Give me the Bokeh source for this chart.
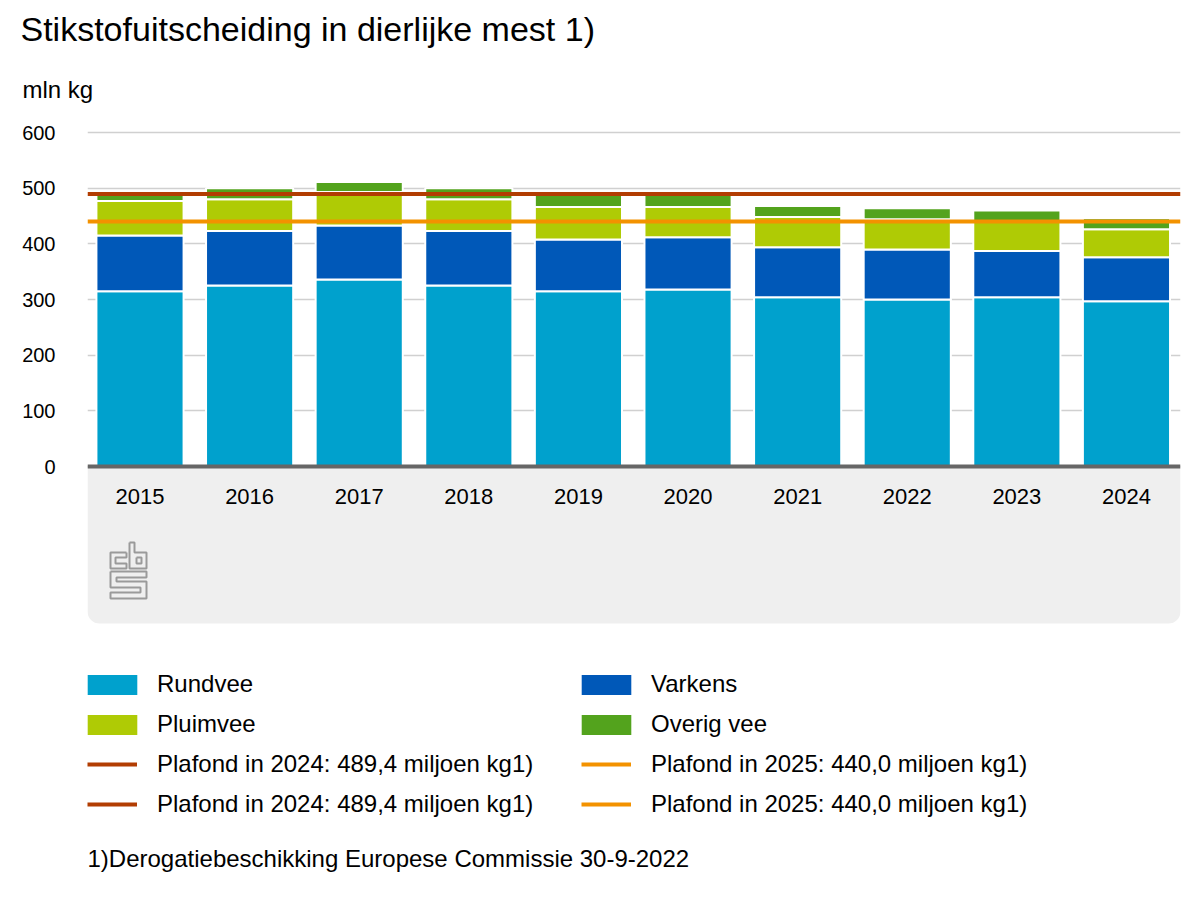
from bokeh.plotting import figure
from bokeh.models import (Range1d, FixedTicker, Label, Legend, LegendItem, ColumnDataSource, Span, Title)
from bokeh.embed import file_html
from bokeh.resources import INLINE
from bokeh.core.properties import value

# ---- data ----
years = ["2015", "2016", "2017", "2018", "2019", "2020", "2021", "2022", "2023", "2024"]
rundvee = [315, 325, 336, 325, 315, 318, 304, 300, 304, 297]
varkens = [100, 98, 97, 98, 93, 94, 90, 90, 83, 79]
pluimvee = [62, 57, 60, 57, 58, 54, 54, 54, 53, 50]
overig = [14, 20, 18, 20, 22, 23, 20, 20, 20, 20]
series_names = ["Rundvee", "Varkens", "Pluimvee", "Overig vee"]
plafond_2024 = 489.4
plafond_2025 = 440.0
plafond_2024_label = "Plafond in 2024: 489,4 miljoen kg1)"
plafond_2025_label = "Plafond in 2025: 440,0 miljoen kg1)"
y_ticks = [0, 100, 200, 300, 400, 500, 600]
title_text = "Stikstofuitscheiding in dierlijke mest 1)"
unit_text = "mln kg"
footnote_text = "1)Derogatiebeschikking Europese Commissie 30-9-2022"

# ---- styles ----
FONT = "Liberation Sans"
colors = ["#00a1cd", "#0058b8", "#afcb05", "#53a31d"]
red = "#b23d02"
orange = "#f39200"

# ---- geometry ----
W, H = 1184, 884
FRAME_LEFT, FRAME_RIGHT, FRAME_BOTTOM = 87, 1180, 876
px_per_unit = 334 / 600.0
x0, x1 = -0.479, len(years) - 1 + 0.493
px_per_x = (FRAME_RIGHT - FRAME_LEFT) / (x1 - x0)
y_top = 600 + 6 / px_per_unit
y_bot = -(FRAME_BOTTOM - 466) / px_per_unit
gray_bottom = -(623 - 466) / px_per_unit
label_y = -(496 - 466) / px_per_unit

p = figure(width=W, height=H, output_backend="svg", toolbar_location=None,
           x_range=Range1d(x0, x1), y_range=Range1d(y_bot, y_top),
           x_axis_type=None, min_border_left=FRAME_LEFT, min_border_right=W - FRAME_RIGHT,
           min_border_top=126, min_border_bottom=H - FRAME_BOTTOM)
p.outline_line_color = None
p.background_fill_color = "white"
p.border_fill_color = "white"

yax = p.yaxis[0]
yax.ticker = FixedTicker(ticks=y_ticks)
yax.axis_line_color = None
yax.major_tick_line_color = None
yax.minor_tick_line_color = None
yax.major_tick_out = 0
yax.major_tick_in = 0
yax.major_label_standoff = 32
yax.major_label_text_font = FONT
yax.major_label_text_font_size = "20px"
yax.major_label_text_color = "#000000"
p.ygrid.ticker = FixedTicker(ticks=y_ticks)
p.ygrid.grid_line_color = "#d0d0d0"
p.ygrid.grid_line_width = 1.5

# gray panel below axis
gray_src = ColumnDataSource(dict(left=[x0], right=[x1], top=[0], bottom=[gray_bottom]))
p.quad(left="left", right="right", top="top", bottom="bottom", source=gray_src,
       fill_color="#efefef", line_color=None, border_radius=(0, 0, 12, 12))

# stacked bars
xs = list(range(len(years)))
src = ColumnDataSource(dict(x=xs, Rundvee=rundvee, Varkens=varkens, Pluimvee=pluimvee,
                            **{"Overig vee": overig}))
bars = p.vbar_stack(series_names, x="x", width=0.795, source=src, color=colors,
                    line_color="white", line_width=2)

# axis line
p.add_layout(Span(location=0, dimension="width", line_color="#666666", line_width=4))

# plafond lines
l24 = p.line(x=[x0, x1], y=[plafond_2024, plafond_2024], line_color=red, line_width=4)
l25 = p.line(x=[x0, x1], y=[plafond_2025, plafond_2025], line_color=orange, line_width=4)

# year labels
p.text(x=xs, y=[label_y] * len(years), text=years, text_align="center",
       text_baseline="middle", text_font=value(FONT), text_font_size="22px", text_color="#000000")

# CBS logo (decoration)
def dx(px):
    return x0 + (px - FRAME_LEFT) / px_per_x
def dy(py):
    return (466 - py) / px_per_unit
c_path = [(126, 552), (110, 552), (110, 568), (126, 568), (126, 563), (115, 563), (115, 557), (126, 557), (126, 552)]
b_path = [(129, 542), (134, 542), (134, 552), (146, 552), (146, 568), (129, 568), (129, 542)]
b_in = [(136, 557), (141, 557), (141, 563), (136, 563), (136, 557)]
s_path = [(110, 571), (146, 571), (146, 577), (116, 577), (116, 581), (146, 581), (146, 598),
          (110, 598), (110, 592), (140, 592), (140, 587), (110, 587), (110, 571)]
paths = [c_path, b_path, b_in, s_path]
p.multi_line(xs=[[dx(a) for a, b in pth] for pth in paths],
             ys=[[dy(b) for a, b in pth] for pth in paths],
             line_color="#9a9a9a", line_width=2)

# legend-only swatch renderers (hidden; legend shows them without inactive shading)
swatches = [p.vbar(x="x", top=name, width=0.5, source=src, fill_color=c, line_color=None, visible=False)
            for name, c in zip(series_names, colors)]

common = dict(ncols=2, orientation="vertical", label_height=20, spacing=12, padding=0, margin=0,
              label_text_font=FONT, label_text_font_size="24px", label_text_color="#000000",
              border_line_color=None, background_fill_alpha=0, inactive_fill_alpha=0)
legend1 = Legend(items=[
    LegendItem(label=series_names[0], renderers=[swatches[0]], index=0),
    LegendItem(label=series_names[2], renderers=[swatches[2]], index=0),
    LegendItem(label=series_names[1], renderers=[swatches[1]], index=0),
    LegendItem(label=series_names[3], renderers=[swatches[3]], index=0),
], location=(-6, 138), glyph_width=62, glyph_height=25, label_standoff=14,
    label_width=406, **common)
legend2 = Legend(items=[
    LegendItem(label=plafond_2024_label, renderers=[l24]),
    LegendItem(label=plafond_2024_label, renderers=[l24]),
    LegendItem(label=plafond_2025_label, renderers=[l25]),
    LegendItem(label=plafond_2025_label, renderers=[l25]),
], location=(0, 58), glyph_width=50, glyph_height=20, label_standoff=20,
    label_width=412, **common)
p.add_layout(legend1)
p.add_layout(legend2)

# titles
p.add_layout(Title(text=unit_text, text_font=FONT, text_font_size="24px", text_font_style="normal",
                   text_color="#000000", align="left", offset=-65, standoff=48), "above")
p.add_layout(Title(text=title_text, text_font=FONT, text_font_size="34px", text_font_style="normal",
                   text_color="#000000", align="left", offset=-67, standoff=3), "above")

# footnote
p.add_layout(Label(x=0, y=18, x_units="screen", y_units="screen", text=footnote_text,
                   text_font=FONT, text_font_size="24px", text_baseline="middle", text_color="#000000"))

open("out.html", "w").write(file_html(p, INLINE))
